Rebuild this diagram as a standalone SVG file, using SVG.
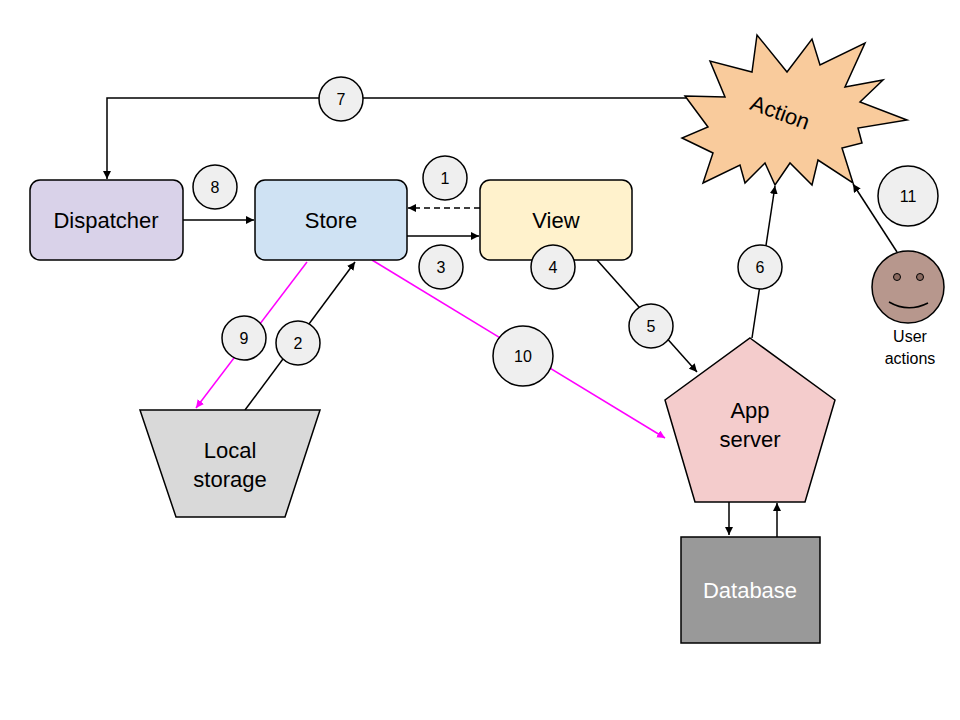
<svg xmlns="http://www.w3.org/2000/svg" width="960" height="720" viewBox="0 0 960 720">
<style>
text{font-family:"Liberation Sans",Arial,sans-serif;fill:#000}
.n{stroke:#000;stroke-width:1.5}
.l{fill:none;stroke:#000;stroke-width:1.5}
.m{fill:none;stroke:#ff00ff;stroke-width:1.5}
.c{fill:#efefef;stroke:#000;stroke-width:1.5}
.t{font-size:22px;text-anchor:middle}
.ct{font-size:16px;text-anchor:middle}
</style>
<defs>
<marker id="a" viewBox="0 0 10 10" refX="10" refY="5" markerWidth="8" markerHeight="8" orient="auto" markerUnits="userSpaceOnUse"><path d="M0,0L10,5L0,10z" fill="#000"/></marker>
<marker id="am" viewBox="0 0 10 10" refX="10" refY="5" markerWidth="8" markerHeight="8" orient="auto" markerUnits="userSpaceOnUse"><path d="M0,0L10,5L0,10z" fill="#ff00ff"/></marker>
</defs>
<rect width="960" height="720" fill="#fff"/>
<g id="connectors">
<path class="l" d="M688,98H107V179" marker-end="url(#a)"/>
<path class="l" d="M183,220H254" marker-end="url(#a)"/>
<path class="l" d="M480,208H408" stroke-dasharray="6,4" marker-end="url(#a)"/>
<path class="l" d="M407,236H479" marker-end="url(#a)"/>
<path class="l" d="M597,260L697,372" marker-end="url(#a)"/>
<path class="l" d="M752,338L775,186" marker-end="url(#a)"/>
<path class="l" d="M897,252L853,184" marker-end="url(#a)"/>
<path class="m" d="M307,262L196,408" marker-end="url(#am)"/>
<path class="l" d="M245,410L355,262" marker-end="url(#a)"/>
<path class="m" d="M372,260L665,438" marker-end="url(#am)"/>
<path class="l" d="M729,502V535" marker-end="url(#a)"/>
<path class="l" d="M777,537V503" marker-end="url(#a)"/>
</g>
<g id="dispatcher"><rect class="n" x="30" y="180" width="153" height="80" rx="10" fill="#d9d2e9"/><text class="t" x="106" y="228">Dispatcher</text></g>
<g id="store"><rect class="n" x="255" y="180" width="152" height="80" rx="10" fill="#cfe2f3"/><text class="t" x="331" y="228">Store</text></g>
<g id="view"><rect class="n" x="480" y="180" width="152" height="80" rx="10" fill="#fff2cc"/><text class="t" x="556" y="228">View</text></g>
<g id="local-storage"><path class="n" d="M140,410H320L285,517H176Z" fill="#d9d9d9"/><text class="t" x="230" y="458">Local</text><text class="t" x="230" y="487">storage</text></g>
<g id="app-server"><path class="n" d="M750,338L835,400L805,502H695L665,400Z" fill="#f4cccc"/><text class="t" x="750" y="418">App</text><text class="t" x="750" y="447">server</text></g>
<g id="database"><rect class="n" x="681" y="537" width="139" height="106" fill="#999"/><text class="t" x="750" y="598" style="fill:#fff">Database</text></g>
<g id="action"><path class="n" fill="#f9cb9c" d="M685,96L725,97L710,61L752,72L757,35L787,72L812,39L820,65L865,43L845,87L883,80L860,102L907,120L858,128L862,143L842,148L853,183L818,160L812,185L790,163L775,185L765,163L745,183L740,165L703,183L713,153L682,138L708,127Z"/><text class="t" x="780" y="120" transform="rotate(20 780 113)">Action</text></g>
<g id="user"><circle class="n" cx="908" cy="287" r="36" fill="#b7978d"/><circle cx="897" cy="277" r="3.5" fill="#8a6a60" stroke="#000"/><circle cx="920" cy="277" r="3.5" fill="#8a6a60" stroke="#000"/><path class="l" d="M889,302Q908,313 928,303"/><text class="ct" x="910" y="342">User</text><text class="ct" x="910" y="364">actions</text></g>
<g id="labels">
<circle class="c" cx="341" cy="99" r="22"/><text class="ct" x="341" y="105">7</text>
<circle class="c" cx="215" cy="187" r="22"/><text class="ct" x="215" y="193">8</text>
<circle class="c" cx="445" cy="178" r="22"/><text class="ct" x="445" y="184">1</text>
<circle class="c" cx="441" cy="267" r="22"/><text class="ct" x="441" y="273">3</text>
<circle class="c" cx="553" cy="267" r="22"/><text class="ct" x="553" y="273">4</text>
<circle class="c" cx="651" cy="326" r="22"/><text class="ct" x="651" y="332">5</text>
<circle class="c" cx="760" cy="267" r="22"/><text class="ct" x="760" y="273">6</text>
<circle class="c" cx="244" cy="338" r="22"/><text class="ct" x="244" y="344">9</text>
<circle class="c" cx="298" cy="343" r="22"/><text class="ct" x="298" y="349">2</text>
<circle class="c" cx="523" cy="356" r="30"/><text class="ct" x="523" y="362">10</text>
<circle class="c" cx="908" cy="196" r="30"/><text class="ct" x="908" y="202">11</text>
</g>
</svg>
